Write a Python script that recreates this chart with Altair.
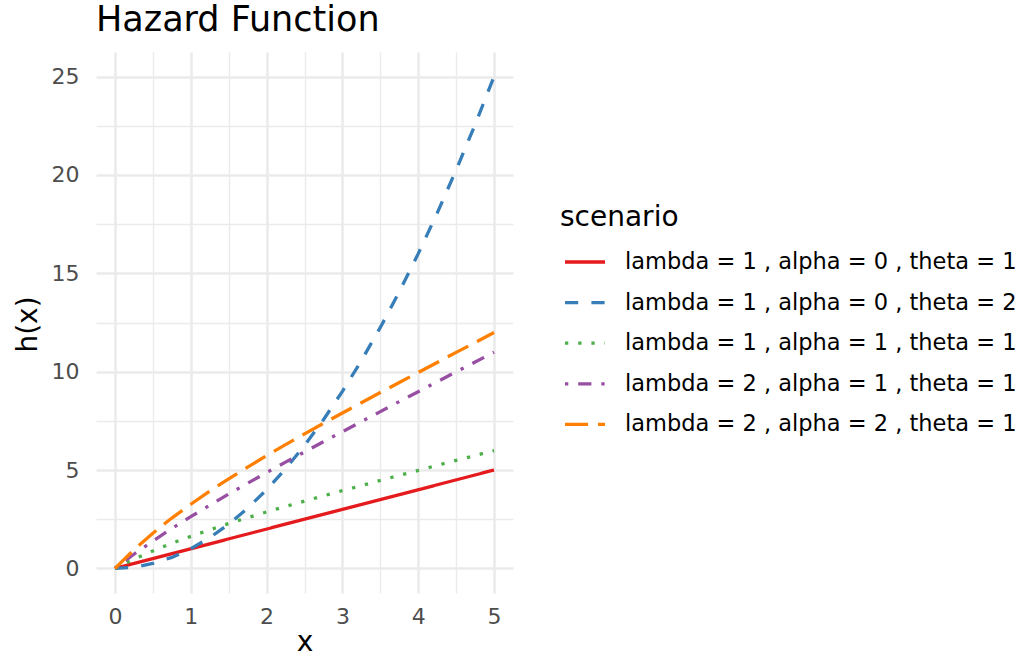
import altair as alt
import pandas as pd

# ---- data ----
x_vals = [0, 0.25, 0.5, 0.75, 1, 1.25, 1.5, 1.75, 2, 2.25, 2.5, 2.75, 3, 3.25,
          3.5, 3.75, 4, 4.25, 4.5, 4.75, 5]

scenarios = [
    "lambda = 1 , alpha = 0 , theta = 1",
    "lambda = 1 , alpha = 0 , theta = 2",
    "lambda = 1 , alpha = 1 , theta = 1",
    "lambda = 2 , alpha = 1 , theta = 1",
    "lambda = 2 , alpha = 2 , theta = 1",
]

h_red = [0, 0.25, 0.5, 0.75, 1, 1.25, 1.5, 1.75, 2, 2.25, 2.5, 2.75, 3, 3.25,
         3.5, 3.75, 4, 4.25, 4.5, 4.75, 5]
h_blue = [0, 0.06, 0.25, 0.56, 1, 1.56, 2.25, 3.06, 4, 5.06, 6.25, 7.56, 9,
          10.56, 12.25, 14.06, 16, 18.06, 20.25, 22.56, 25]
h_green = [0, 0.47, 0.89, 1.28, 1.63, 1.96, 2.28, 2.58, 2.87, 3.15, 3.42, 3.69,
           3.95, 4.21, 4.47, 4.73, 4.98, 5.24, 5.49, 5.74, 5.99]
h_purple = [0, 0.72, 1.39, 2.03, 2.63, 3.21, 3.78, 4.33, 4.87, 5.40, 5.92, 6.44,
            6.95, 7.46, 7.97, 8.48, 8.98, 9.49, 9.99, 10.49, 10.99]
h_orange = [0, 0.94, 1.79, 2.56, 3.26, 3.93, 4.55, 5.15, 5.73, 6.29, 6.84, 7.37,
            7.90, 8.42, 8.94, 9.45, 9.96, 10.47, 10.98, 11.48, 11.99]

series = [h_red, h_blue, h_green, h_purple, h_orange]

colors = ["#E41A1C", "#377EB8", "#4DAF4A", "#984EA3", "#FF7F00"]
dashes = [[1, 0], [13.2, 13.2], [3.3, 9.9], [3.3, 9.9, 13.2, 9.9], [23.1, 9.9]]

x_ticks = [0, 0.5, 1, 1.5, 2, 2.5, 3, 3.5, 4, 4.5, 5]
y_ticks = [0, 2.5, 5, 7.5, 10, 12.5, 15, 17.5, 20, 22.5, 25]

rows = []
for name, vals in zip(scenarios, series):
    for xv, hv in zip(x_vals, vals):
        rows.append({"x": xv, "h": hv, "scenario": name})
df = pd.DataFrame(rows)

FONT = "DejaVu Sans"
GRID = "#EBEBEB"

legend = alt.Legend(
    title="scenario",
    orient="none",
    legendX=464,
    legendY=152,
    titleFontSize=28,
    titleFont=FONT,
    titleFontWeight="normal",
    titleColor="#000000",
    titlePadding=8,
    labelFontSize=22.5,
    labelFont=FONT,
    labelColor="#000000",
    labelOffset=18,
    labelLimit=600,
    symbolSize=1600,
    symbolStrokeWidth=3.3,
    symbolOffset=3,
    rowPadding=6.6,
)

chart = alt.Chart(df).mark_line(strokeWidth=3.3, strokeCap="butt").encode(
    x=alt.X(
        "x:Q",
        scale=alt.Scale(domain=[-0.25, 5.25], nice=False, zero=False),
        axis=alt.Axis(
            title="x",
            values=x_ticks,
            labelExpr="datum.value % 1 === 0 ? '' + datum.value : ''",
            ticks=False,
            domain=False,
            labelPadding=13,
            labelFontSize=22,
            labelFont=FONT,
            labelColor="#4D4D4D",
            titleFontSize=28,
            titleFont=FONT,
            titleFontWeight="normal",
            titleColor="#000000",
            titleBaseline="alphabetic",
            titleY=57,
            gridColor=GRID,
            gridWidth={"condition": {"test": "datum.value % 1 !== 0", "value": 1.4},
                       "value": 2.6},
        ),
    ),
    y=alt.Y(
        "h:Q",
        scale=alt.Scale(domain=[-1.25, 26.25], nice=False, zero=False),
        axis=alt.Axis(
            title="h(x)",
            values=y_ticks,
            labelExpr="datum.value % 5 === 0 ? '' + datum.value : ''",
            ticks=False,
            domain=False,
            labelPadding=17,
            labelFontSize=22,
            labelFont=FONT,
            labelColor="#4D4D4D",
            titleFontSize=28,
            titleFont=FONT,
            titleFontWeight="normal",
            titleColor="#000000",
            titleX=-68,
            titleY=272,
            titleBaseline="middle",
            titleAlign="center",
            gridColor=GRID,
            gridWidth={"condition": {"test": "datum.value % 5 !== 0", "value": 1.4},
                       "value": 2.6},
        ),
    ),
    color=alt.Color("scenario:N", scale=alt.Scale(domain=scenarios, range=colors),
                    legend=legend),
    strokeDash=alt.StrokeDash("scenario:N", scale=alt.Scale(domain=scenarios, range=dashes),
                              legend=legend),
).properties(
    width=417,
    height=541,
    title=alt.TitleParams(
        "Hazard Function",
        anchor="start",
        fontSize=35,
        font=FONT,
        fontWeight="normal",
        color="#000000",
        baseline="alphabetic",
        offset=19,
        dy=33,
        frame="group",
    ),
    autosize=alt.AutoSizeParams(type="none"),
    padding={"left": 96, "top": 52, "right": 507, "bottom": 63},
    background="#FFFFFF",
).configure_view(strokeWidth=0)

chart.save("out.html", embed_options={"renderer": "svg", "actions": False})
